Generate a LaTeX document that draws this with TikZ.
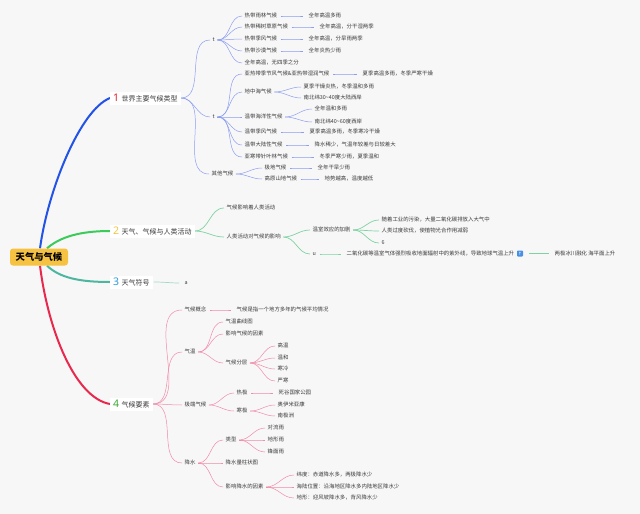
\documentclass[tikz,border=0pt]{standalone}
\usepackage{fontspec}
\setmainfont{Noto Sans CJK SC}
\newfontfamily\numfont{Noto Sans}
\newfontfamily\symfont{DejaVu Sans}
\definecolor{bgc}{HTML}{F7F7F7}
\definecolor{txt}{HTML}{3A3A3A}
\definecolor{rootc}{HTML}{F5C242}
\definecolor{blueM}{HTML}{2253E6}
\definecolor{blueS}{HTML}{8C9EF0}
\definecolor{greenM}{HTML}{3ACB5A}
\definecolor{greenS}{HTML}{7ED3A2}
\definecolor{tealM}{HTML}{4DB6A0}
\definecolor{tealS}{HTML}{A0D8CA}
\definecolor{redM}{HTML}{E8294E}
\definecolor{redS}{HTML}{F28BA8}
\definecolor{nA}{HTML}{E5252A}
\definecolor{nB}{HTML}{F4C542}
\definecolor{nC}{HTML}{2D9CDB}
\definecolor{nD}{HTML}{3BA935}
\definecolor{iconc}{HTML}{4A90E2}
\pgfdeclarelayer{bglayer}
\pgfdeclarelayer{linelayer}
\pgfsetlayers{bglayer,linelayer,main}
\newcommand\lk[3]{\draw[#1] (#2.east) to[out=0,in=180] (#3.west);}
\newcommand\mnum[2]{{\numfont\bfseries\fontsize{10.5}{10}\selectfont\color{#1}#2}\hspace{2.5pt}}
\begin{document}
\begin{tikzpicture}[x=1pt,y=-1pt,
  leaf/.style={anchor=west, inner xsep=2.5pt, inner ysep=1pt, text=txt,
    font=\fontsize{5.4}{6}\selectfont, text height=4.6pt, text depth=1pt},
  mainlbl/.style={anchor=west, fill=white, inner xsep=3pt, inner ysep=2pt, text=txt,
    font=\fontsize{7}{8}\selectfont, text height=7.5pt, text depth=1.5pt},
  rootbox/.style={fill=rootc, rounded corners=3pt, minimum width=58pt, minimum height=17pt,
    inner sep=0pt, font=\fontsize{9.3}{10}\selectfont\bfseries, text=black},
  mainline/.style={line width=2pt},
  bl/.style={draw=blueS, line width=0.5pt},
  gl/.style={draw=greenS, line width=0.7pt},
  tl/.style={draw=tealS, line width=0.7pt},
  rl/.style={draw=redS, line width=0.5pt},
  val/.style={shorten >=3pt, shorten <=1pt}
]
\begin{pgfonlayer}{bglayer}
\fill[bgc] (0,0) rectangle (640,514);
\end{pgfonlayer}
\useasboundingbox (0,0) rectangle (640,514);

% root
\node[rootbox] (root) at (39,257) {天气与气候};

% main labels
\node[mainlbl] (m1) at (110,98) {\mnum{nA}{1}世界主要气候类型};
\node[mainlbl] (m2) at (110,231) {\mnum{nB}{2}天气、气候与人类活动};
\node[mainlbl] (m3) at (110,282) {\mnum{nC}{3}天气符号};
\node[mainlbl] (m4) at (110,404) {\mnum{nD}{4}气候要素};

% ---- branch 1
\node[leaf] (t1) at (210,40) {t};
\node[leaf] (a1) at (242,16) {热带雨林气候};
\node[leaf] (a1v) at (306,16) {全年高温多雨};
\node[leaf] (a2) at (242,27) {热带稀树草原气候};
\node[leaf] (a2v) at (317,27) {全年高温，分干湿两季};
\node[leaf] (a3) at (242,39) {热带季风气候};
\node[leaf] (a3v) at (306,39) {全年高温，分旱雨两季};
\node[leaf] (a4) at (242,51) {热带沙漠气候};
\node[leaf] (a4v) at (306,51) {全年炎热少雨};
\node[leaf] (a5) at (242,63) {全年高温，无四季之分};

\node[leaf] (t2) at (210,117) {t};
\node[leaf] (b1) at (242,74) {亚热带季节风气候\&亚热带湿润气候};
\node[leaf] (b1v) at (360,74) {夏季高温多雨，冬季严寒干燥};
\node[leaf] (b2) at (242,92) {地中海气候};
\node[leaf] (b2a) at (301,87) {夏季干燥炎热，冬季温和多雨};
\node[leaf] (b2b) at (301,98) {南北纬30\textasciitilde40度大陆西岸};
\node[leaf] (b3) at (242,117) {温带海洋性气候};
\node[leaf] (b3a) at (312,109) {全年温和多雨};
\node[leaf] (b3b) at (312,122) {南北纬40\textasciitilde60度西岸};
\node[leaf] (b4) at (242,132) {温带季风气候};
\node[leaf] (b4v) at (307,132) {夏季高温多雨，冬季寒冷干燥};
\node[leaf] (b5) at (242,145) {温带大陆性气候};
\node[leaf] (b5v) at (312,145) {降水稀少，气温年较差与日较差大};
\node[leaf] (b6) at (242,157) {亚寒带针叶林气候};
\node[leaf] (b6v) at (317,157) {冬季严寒少雨，夏季温和};

\node[leaf] (o) at (209,174) {其他气候};
\node[leaf] (o1) at (262,168) {极地气候};
\node[leaf] (o1v) at (315,168) {全年干旱少雨};
\node[leaf] (o2) at (262,179) {高原山地气候};
\node[leaf] (o2v) at (322,179) {地势越高，温度越低};

% ---- branch 2
\node[leaf] (h1) at (224,208) {气候影响着人类活动};
\node[leaf] (h2) at (224,237) {人类活动对气候的影响};
\node[leaf] (g1) at (310,230) {温室效应的加剧};
\node[leaf] (g1a) at (379,220) {随着工业的污染，大量二氧化碳排放入大气中};
\node[leaf] (g1b) at (379,231) {人类过度砍伐，使植物光合作用减弱};
\node[leaf] (g1c) at (379,243) {6};
\node[leaf] (u) at (310,254) {u};
\node[leaf] (co2) at (344,254) {二氧化碳等温室气体强烈吸收地面辐射中的紫外线，导致地球气温上升};
\node[fill=iconc, rounded corners=0.8pt, minimum width=6pt, minimum height=6pt, inner sep=0pt, text=white,
  font=\symfont\fontsize{4.5}{5}\selectfont] (upicon) at (520,253.5) {↑};
\node[leaf] (ice) at (552,253.5) {两极冰川融化 海平面上升};

% ---- branch 3
\node[leaf] (sym) at (182,283) {a};

% ---- branch 4
\node[leaf] (c1) at (182,310) {气候概念};
\node[leaf] (c1v) at (234,310) {气候是指一个地方多年的气候平均情况};
\node[leaf] (c2) at (182,352) {气温};
\node[leaf] (c2a) at (223,322) {气温曲线图};
\node[leaf] (c2b) at (223,334) {影响气候的因素};
\node[leaf] (c2c) at (223,363) {气候分层};
\node[leaf] (d1) at (275,346) {高温};
\node[leaf] (d2) at (275,358) {温和};
\node[leaf] (d3) at (275,369) {寒冷};
\node[leaf] (d4) at (275,381) {严寒};
\node[leaf] (c3) at (182,405) {极端气候};
\node[leaf] (c3a) at (234,393) {热极};
\node[leaf] (c3av) at (276,393) {死谷国家公园};
\node[leaf] (c3b) at (234,411) {寒极};
\node[leaf] (c3b1) at (275,405) {奥伊米亚康};
\node[leaf] (c3b2) at (275,416) {南极洲};
\node[leaf] (c4) at (182,463) {降水};
\node[leaf] (c4a) at (223,440) {类型};
\node[leaf] (e1) at (265,428) {对流雨};
\node[leaf] (e2) at (265,440) {地形雨};
\node[leaf] (e3) at (265,452) {锋面雨};
\node[leaf] (c4b) at (223,463) {降水量柱状图};
\node[leaf] (c4c) at (223,487) {影响降水的因素};
\node[leaf] (f1) at (294,475) {纬度：赤道降水多，两极降水少};
\node[leaf] (f2) at (294,487) {海陆位置：沿海地区降水多内陆地区降水少};
\node[leaf] (f3) at (294,498) {地形：迎风坡降水多，背风降水少};

\begin{pgfonlayer}{linelayer}
% main lines
\draw[mainline, blueM] ([xshift=1pt]root.north) .. controls (48,190) and (80,110) .. (m1.west);
\draw[mainline, greenM] ([xshift=8pt]root.north) .. controls (60,237) and (80,231) .. (m2.west);
\draw[mainline, tealM] ([xshift=8pt]root.south) .. controls (60,278) and (80,282) .. (m3.west);
\draw[mainline, redM] ([xshift=1pt]root.south) .. controls (48,330) and (75,398) .. (m4.west);

% branch 1
\lk{bl}{m1}{t1}\lk{bl}{m1}{t2}\lk{bl}{m1}{o}
\lk{bl}{t1}{a1}\lk{bl}{t1}{a2}\lk{bl}{t1}{a3}\lk{bl}{t1}{a4}\lk{bl}{t1}{a5}
\lk{bl,val}{a1}{a1v}\lk{bl,val}{a2}{a2v}\lk{bl,val}{a3}{a3v}\lk{bl,val}{a4}{a4v}
\lk{bl}{t2}{b1}\lk{bl}{t2}{b2}\lk{bl}{t2}{b3}\lk{bl}{t2}{b4}\lk{bl}{t2}{b5}\lk{bl}{t2}{b6}
\lk{bl,val}{b1}{b1v}
\lk{bl}{b2}{b2a}\lk{bl}{b2}{b2b}
\lk{bl}{b3}{b3a}\lk{bl}{b3}{b3b}
\lk{bl,val}{b4}{b4v}\lk{bl,val}{b5}{b5v}\lk{bl,val}{b6}{b6v}
\lk{bl}{o}{o1}\lk{bl}{o}{o2}
\lk{bl,val}{o1}{o1v}\lk{bl,val}{o2}{o2v}

% branch 2
\lk{gl}{m2}{h1}\lk{gl}{m2}{h2}
\lk{gl}{h2}{g1}\lk{gl}{h2}{u}
\lk{gl}{g1}{g1a}\lk{gl}{g1}{g1b}\lk{gl}{g1}{g1c}
\lk{gl,val}{u}{co2}
\draw[gl, line width=1pt, shorten >=3pt, shorten <=6pt] (upicon.east) -- (ice.west);

% branch 3
\lk{tl,val}{m3}{sym}

% branch 4
\lk{rl}{m4}{c1}\lk{rl}{m4}{c2}\lk{rl}{m4}{c3}\lk{rl}{m4}{c4}
\lk{rl,val}{c1}{c1v}
\lk{rl}{c2}{c2a}\lk{rl}{c2}{c2b}\lk{rl}{c2}{c2c}
\lk{rl}{c2c}{d1}\lk{rl}{c2c}{d2}\lk{rl}{c2c}{d3}\lk{rl}{c2c}{d4}
\lk{rl}{c3}{c3a}\lk{rl}{c3}{c3b}
\lk{rl,val}{c3a}{c3av}
\lk{rl}{c3b}{c3b1}\lk{rl}{c3b}{c3b2}
\lk{rl}{c4}{c4a}\lk{rl}{c4}{c4b}\lk{rl}{c4}{c4c}
\lk{rl}{c4a}{e1}\lk{rl}{c4a}{e2}\lk{rl}{c4a}{e3}
\lk{rl}{c4c}{f1}\lk{rl}{c4c}{f2}\lk{rl}{c4c}{f3}
\end{pgfonlayer}
\end{tikzpicture}
\end{document}
